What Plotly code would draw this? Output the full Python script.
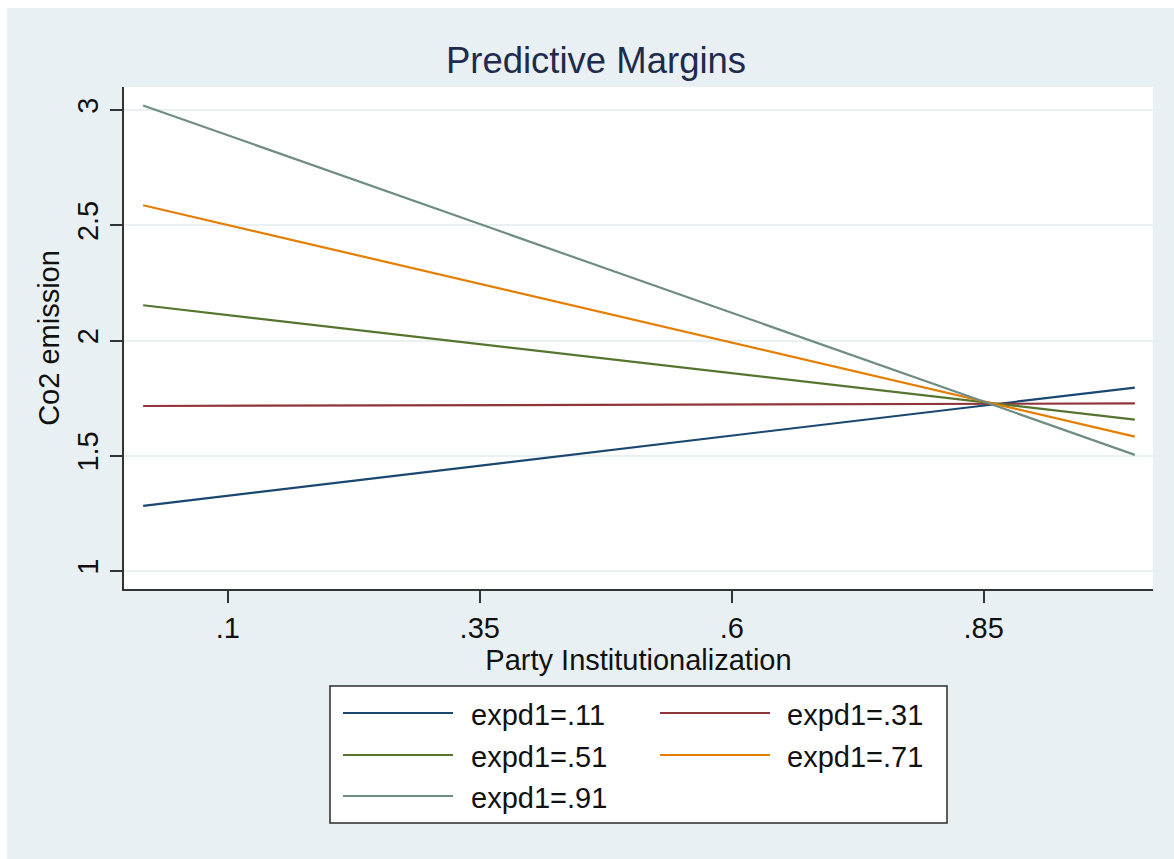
import plotly.graph_objects as go

# Predictive margins of CO2 emission over party institutionalization,
# one line per level of expd1
x_pts = [0.016, 1.0]
series_names = ["expd1=.11", "expd1=.31", "expd1=.51", "expd1=.71", "expd1=.91"]
y_111 = [1.283, 1.796]
y_131 = [1.716, 1.727]
y_151 = [2.153, 1.657]
y_171 = [2.587, 1.583]
y_191 = [3.020, 1.504]
series_values = [y_111, y_131, y_151, y_171, y_191]
colors = ["#1a476f", "#90353b", "#55752f", "#e37e00", "#6e8e84"]

x_tickvals = [0.1, 0.35, 0.6, 0.85]
x_ticktext = [".1", ".35", ".6", ".85"]
y_tickvals = [1, 1.5, 2, 2.5, 3]
y_ticktext = ["1", "1.5", "2", "2.5", "3"]

FONT = "Liberation Sans, Arial, Helvetica, sans-serif"
BG = "#e9f0f3"
W, H = 1174, 859
ML, MR, MT, MB = 124, 21, 87, 270
PW, PH = W - ML - MR, H - MT - MB
TXT = 29


def px_x(p):
    # pixel column -> paper x
    return (p - ML) / PW


def px_y(p):
    # pixel row -> paper y
    return (H - MB - p) / PH


fig = go.Figure()
for name, vals, col in zip(series_names, series_values, colors):
    fig.add_trace(go.Scatter(x=x_pts, y=vals, mode="lines", name=name,
                             line=dict(color=col, width=2.2),
                             showlegend=False))

shapes = []
annotations = []

# thin white frame at top and left of the graph region
shapes.append(dict(type="rect", xref="paper", yref="paper", layer="above",
                   x0=px_x(0), x1=px_x(7), y0=px_y(H), y1=px_y(0),
                   fillcolor="white", line=dict(width=0)))
shapes.append(dict(type="rect", xref="paper", yref="paper", layer="above",
                   x0=px_x(0), x1=px_x(W), y0=px_y(8), y1=px_y(0),
                   fillcolor="white", line=dict(width=0)))

# legend box: two columns, three rows
shapes.append(dict(type="rect", xref="paper", yref="paper",
                   x0=px_x(330), x1=px_x(947), y0=px_y(823), y1=px_y(686),
                   fillcolor="white", line=dict(color="#2b2b2b", width=1.5)))
cols_px = [(343, 453, 472), (660, 770, 788)]
rows_px = [713, 755, 796]
for i, (name, col) in enumerate(zip(series_names, colors)):
    r, c = divmod(i, 2)
    lx0, lx1, tx = cols_px[c]
    yy = rows_px[r]
    shapes.append(dict(type="line", xref="paper", yref="paper",
                       x0=px_x(lx0), x1=px_x(lx1), y0=px_y(yy), y1=px_y(yy),
                       line=dict(color=col, width=2.2)))
    annotations.append(dict(xref="paper", yref="paper", x=px_x(tx - 3), y=px_y(yy + 2),
                            xanchor="left", yanchor="middle", showarrow=False,
                            text=name, font=dict(family=FONT, size=TXT, color="#111")))

fig.update_layout(
    width=W, height=H,
    margin=dict(l=ML, r=MR, t=MT, b=MB),
    paper_bgcolor=BG, plot_bgcolor="white",
    font=dict(family=FONT, color="#111"),
    title=dict(text="Predictive Margins", x=596 / W, xanchor="center",
               y=1 - 60 / H, yanchor="middle", yref="container",
               font=dict(family=FONT, size=36.5, color="#1f2b4d")),
    xaxis=dict(range=[-0.003, 1.018], tickvals=x_tickvals, ticktext=x_ticktext,
               showgrid=False, zeroline=False, showline=True,
               linecolor="#333", linewidth=2, ticks="outside", ticklen=12,
               tickwidth=1.5, tickcolor="#333",
               tickfont=dict(family=FONT, size=TXT, color="#111"),
               title=dict(text="Party Institutionalization", standoff=0,
                          font=dict(family=FONT, size=TXT, color="#111"))),
    yaxis=dict(range=[0.922, 3.1], tickvals=y_tickvals, ticktext=y_ticktext,
               showgrid=True, gridcolor="#eaeff1", gridwidth=1.5,
               zeroline=False, showline=True,
               linecolor="#333", linewidth=2, ticks="outside", ticklen=12,
               tickwidth=1.5, tickcolor="#333", tickangle=-90,
               tickfont=dict(family=FONT, size=TXT, color="#111"),
               title=dict(text="Co2 emission", standoff=4,
                          font=dict(family=FONT, size=TXT, color="#111"))),
    shapes=shapes,
    annotations=annotations,
)

fig.write_html("out.html")
